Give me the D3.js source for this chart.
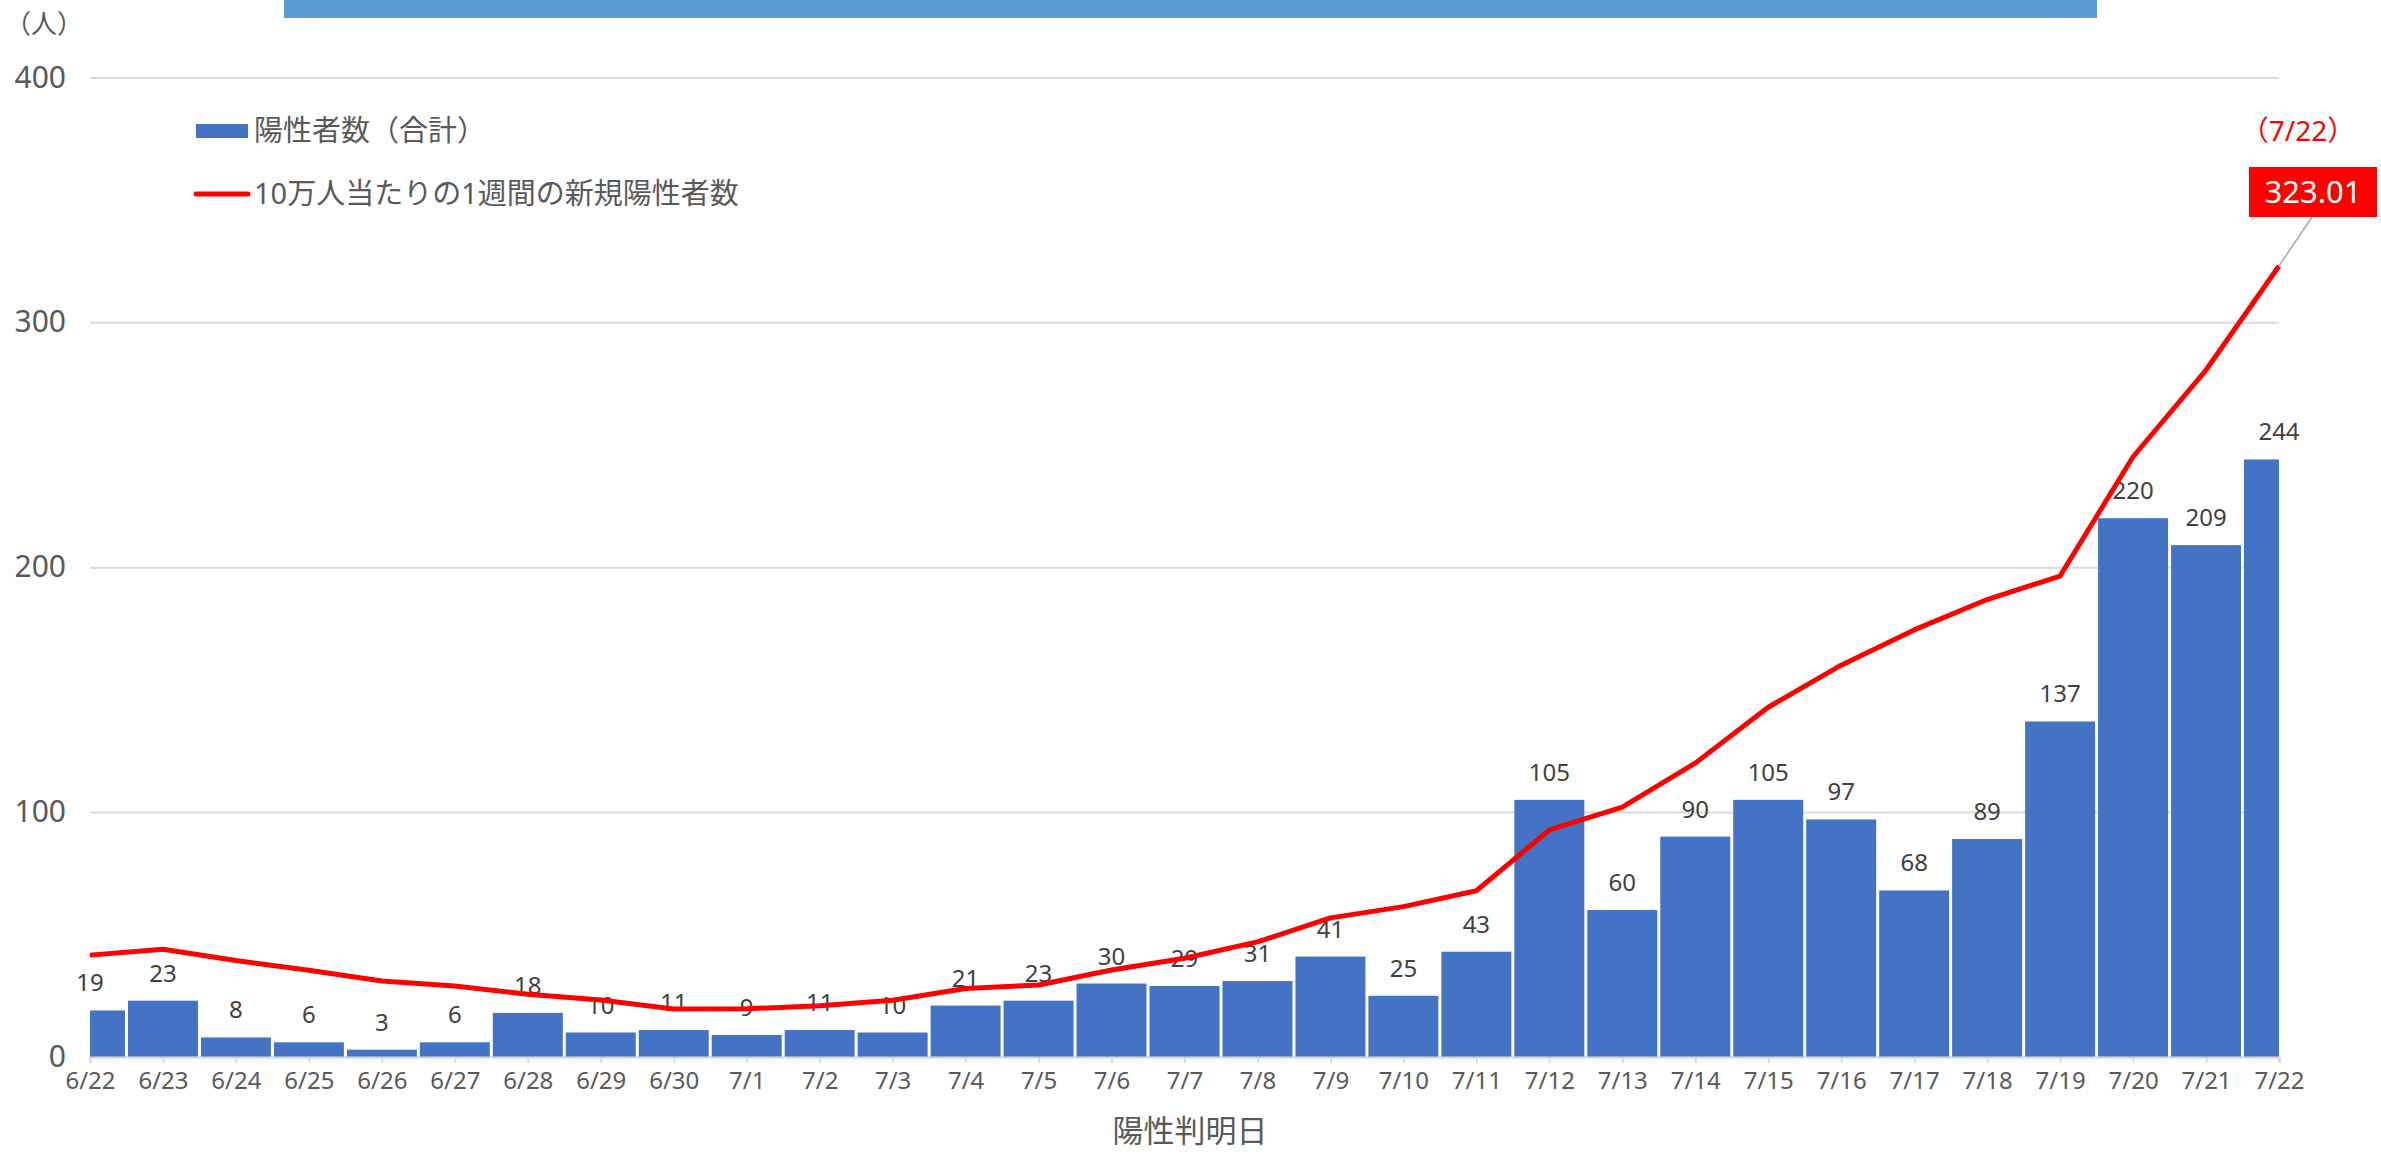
<!DOCTYPE html>
<html>
<head>
<meta charset="utf-8">
<script src="https://cdn.jsdelivr.net/npm/d3@7"></script>
<style>
  body { margin: 0; background: #fff; }
  text { font-family: "Noto Sans", "Noto Sans CJK JP", sans-serif; }
</style>
</head>
<body>
<div id="plot_chart"></div>
<script>
var dates = ['6/22','6/23','6/24','6/25','6/26','6/27','6/28','6/29','6/30',
  '7/1','7/2','7/3','7/4','7/5','7/6','7/7','7/8','7/9','7/10','7/11','7/12',
  '7/13','7/14','7/15','7/16','7/17','7/18','7/19','7/20','7/21','7/22'];
var cases = [19,23,8,6,3,6,18,10,11,9,11,10,21,23,30,29,31,41,25,43,105,60,90,105,97,68,89,137,220,209,244];
var per100k = [41.6,44,39.4,35.4,31,29,25.6,23.3,19.6,19.7,20.9,23.2,28,29.4,35.5,40.3,47,56.8,61.4,67.9,
  92.7,102,120,142.8,160,174.4,186.8,196.4,245.1,280.5,323.01];
var yTicks = [0,100,200,300,400];
var seriesNames = ['陽性者数（合計）','10万人当たりの1週間の新規陽性者数'];
var xTitle = '陽性判明日';
var yUnit = '（人）';
var lastLabel = '（7/22）';

var W = 2381, H = 1154;
var plotLeft = 90, plotRight = 2279, plotTop = 77.4, plotBottom = 1057;

var svg = d3.select('#plot_chart').append('svg').attr('width', W).attr('height', H);

// cut off title band at the top
svg.append('rect').attr('x', 284).attr('y', 0).attr('width', 1813).attr('height', 18).attr('fill', '#5B9BD5');

var x = d3.scalePoint().domain(dates).range([plotLeft, plotRight]);
var y = d3.scaleLinear().domain([0, 400]).range([plotBottom, plotTop]);
var step = x.step();

// gridlines + y labels
var yAxis = svg.append('g').attr('transform', 'translate(' + plotLeft + ',0)')
  .call(d3.axisLeft(y).tickValues(yTicks).tickSize(-(plotRight - plotLeft)).tickPadding(24));
yAxis.select('.domain').remove();
yAxis.selectAll('line').attr('stroke', '#d9d9d9').attr('stroke-width', 2);
yAxis.selectAll('text').attr('fill', '#595959').style('font-size', '30px');

svg.append('text').attr('x', 44).attr('y', 33).attr('text-anchor', 'middle')
  .attr('fill', '#595959').style('font-size', '26px').text(yUnit);

// bars, clipped to the plot area (first and last are halves)
svg.append('clipPath').attr('id', 'plotclip').append('rect')
  .attr('x', plotLeft).attr('y', 0).attr('width', plotRight - plotLeft).attr('height', H);

svg.append('g').attr('clip-path', 'url(#plotclip)')
  .selectAll('rect')
  .data(cases)
  .enter().append('rect')
  .attr('x', function(d, i) { return x(dates[i]) - step / 2 + 1.5; })
  .attr('y', function(d) { return y(d); })
  .attr('width', step - 3)
  .attr('height', function(d) { return y(0) - y(d); })
  .attr('fill', '#4472C4');

// x axis
var xAxis = svg.append('g').attr('transform', 'translate(0,' + plotBottom + ')')
  .call(d3.axisBottom(x).tickSize(6).tickPadding(9));
xAxis.select('.domain').attr('stroke', '#d9d9d9').attr('stroke-width', 2);
xAxis.selectAll('line').attr('stroke', '#d9d9d9').attr('stroke-width', 2);
xAxis.selectAll('text').attr('fill', '#595959').style('font-size', '24px');

svg.append('text').attr('x', 1190).attr('y', 1142).attr('text-anchor', 'middle')
  .attr('fill', '#595959').style('font-size', '31px').text(xTitle);

// value labels
svg.append('g').selectAll('text')
  .data(cases)
  .enter().append('text')
  .attr('x', function(d, i) { return x(dates[i]); })
  .attr('y', function(d) { return y(d) - 19; })
  .attr('text-anchor', 'middle')
  .attr('fill', '#404040')
  .style('font-size', '24px')
  .text(function(d) { return d; });

// line
var line = d3.line()
  .x(function(d, i) { return x(dates[i]); })
  .y(function(d) { return y(d); });
svg.append('path').datum(per100k)
  .attr('d', line)
  .attr('fill', 'none')
  .attr('stroke', '#FF0000')
  .attr('stroke-width', 5)
  .attr('stroke-linejoin', 'round');

// callout for last value
var lx = x(dates[dates.length - 1]), ly = y(per100k[per100k.length - 1]);
svg.append('line').attr('x1', lx).attr('y1', ly).attr('x2', 2312).attr('y2', 217)
  .attr('stroke', '#a6a6a6').attr('stroke-width', 1.5);
svg.append('rect').attr('x', 2249).attr('y', 167).attr('width', 128).attr('height', 50).attr('fill', '#FF0000');
svg.append('text').attr('x', 2313).attr('y', 203).attr('text-anchor', 'middle')
  .attr('fill', '#fff').style('font-size', '31px').text(per100k[per100k.length - 1].toFixed(2));
svg.append('text').attr('x', 2298).attr('y', 141).attr('text-anchor', 'middle')
  .attr('fill', '#FF0000').style('font-size', '28px').text(lastLabel);

// legend
var legend = svg.append('g');
legend.append('rect').attr('x', 196).attr('y', 124).attr('width', 52).attr('height', 14).attr('fill', '#4472C4');
legend.append('line').attr('x1', 196).attr('x2', 248).attr('y1', 194).attr('y2', 194)
  .attr('stroke', '#FF0000').attr('stroke-width', 5).attr('stroke-linecap', 'round');
legend.selectAll('text')
  .data(seriesNames)
  .enter().append('text')
  .attr('x', 254)
  .attr('y', function(d, i) { return i == 0 ? 141 : 204; })
  .attr('fill', '#595959')
  .style('font-size', '29px')
  .text(function(d) { return d; });
</script>
</body>
</html>
